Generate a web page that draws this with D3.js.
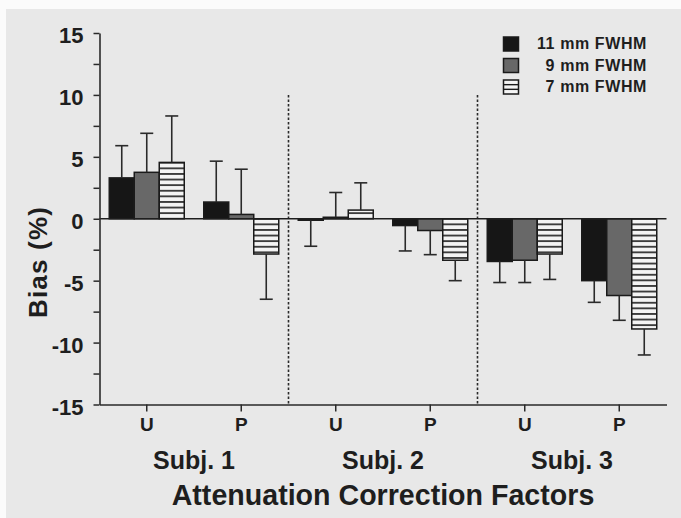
<!DOCTYPE html>
<html>
<head>
<meta charset="utf-8">
<script src="https://cdn.jsdelivr.net/npm/d3@7"></script>
<style>
  body { margin: 0; background: #fff; }
  svg { display: block; }
  text { font-family: Arial, "Liberation Sans", Helvetica, sans-serif; font-weight: bold; fill: #1e1e1e; }
</style>
</head>
<body>
<svg id="chart" width="681" height="518"></svg>
<script>
// Subjects and attenuation-correction factors (U / P) per subject
const subjects = ["Subj. 1", "Subj. 2", "Subj. 3"];
const factors = ["U", "P"];
const seriesNames = ["11 mm FWHM", "9 mm FWHM", "7 mm FWHM"];

// Mean bias (%) for each subject/factor pair, one array per filter width
const bias11 = [3.3, 1.35, -0.12, -0.55, -3.45, -5.0];
const bias9  = [3.75, 0.35, 0.12, -0.95, -3.35, -6.2];
const bias7  = [4.55, -2.85, 0.7, -3.35, -2.85, -8.9];

// Standard deviations (one-sided error bars)
const sd11 = [2.6, 3.3, 2.1, 2.05, 1.7, 1.75];
const sd9  = [3.15, 3.65, 2.0, 1.95, 1.8, 2.0];
const sd7  = [3.75, 3.65, 2.2, 1.65, 2.05, 2.1];

const yTickValues = [-15, -12.5, -10, -7.5, -5, -2.5, 0, 2.5, 5, 7.5, 10, 12.5, 15];
const yLabelValues = [-15, -10, -5, 0, 5, 10, 15];

const svg = d3.select("#chart");
const W = 681, H = 518;

// paper background
svg.append("rect").attr("width", W).attr("height", H).attr("fill", "#fbfbfb");
svg.append("rect").attr("x", 6).attr("y", 9).attr("width", W - 6).attr("height", H - 9).attr("fill", "#e8e8e8");

const plot = { left: 99.5, right: 666.5, top: 33, bottom: 404.5 };

const categories = [];
subjects.forEach(s => factors.forEach(f => categories.push(s + "|" + f)));

const x = d3.scaleBand().domain(categories).range([plot.left, plot.right]).padding(0);
const y = d3.scaleLinear().domain([-15, 15]).range([plot.bottom, plot.top]);

const barW = 25;
const inner = d3.scaleBand().domain(seriesNames)
  .range([-barW * 1.5, barW * 1.5]).padding(0);

const seriesData = [
  { name: seriesNames[0], values: bias11, sd: sd11, fill: "#161616" },
  { name: seriesNames[1], values: bias9,  sd: sd9,  fill: "#686868" },
  { name: seriesNames[2], values: bias7,  sd: sd7,  fill: "url(#stripes)" }
];

// horizontal stripe fill, anchored on the zero line
const defs = svg.append("defs");
const stripeGap = 5.6;
const pat = defs.append("pattern")
  .attr("id", "stripes")
  .attr("patternUnits", "userSpaceOnUse")
  .attr("width", 10).attr("height", stripeGap)
  .attr("patternTransform", `translate(0,${y(0)})`);
pat.append("rect").attr("width", 10).attr("height", stripeGap).attr("fill", "#f4f4f4");
pat.append("rect").attr("y", -0.8).attr("width", 10).attr("height", 1.6).attr("fill", "#1e1e1e");
pat.append("rect").attr("y", stripeGap - 0.8).attr("width", 10).attr("height", 1.6).attr("fill", "#1e1e1e");

// dashed separators between subjects
const sepX = [x(categories[2]), x(categories[4])];
svg.append("g").selectAll("line").data(sepX).join("line")
  .attr("x1", d => d).attr("x2", d => d)
  .attr("y1", y(10)).attr("y2", y(-15))
  .attr("stroke", "#2a2a2a").attr("stroke-width", 1.6)
  .attr("stroke-dasharray", "2.5,2");

// bars
const bars = svg.append("g");
seriesData.forEach(s => {
  const g = bars.append("g");
  categories.forEach((c, i) => {
    const v = s.values[i];
    const cx = x(c) + x.bandwidth() / 2 + inner(s.name);
    g.append("rect")
      .attr("x", cx)
      .attr("y", y(Math.max(0, v)))
      .attr("width", inner.bandwidth())
      .attr("height", Math.abs(y(v) - y(0)))
      .attr("fill", s.fill)
      .attr("stroke", "#1a1a1a")
      .attr("stroke-width", 1.5);
  });
});

// error bars, drawn away from zero
const errs = svg.append("g").attr("stroke", "#2a2a2a").attr("stroke-width", 1.6);
seriesData.forEach(s => {
  categories.forEach((c, i) => {
    const v = s.values[i];
    const end = v >= 0 ? v + s.sd[i] : v - s.sd[i];
    const mx = x(c) + x.bandwidth() / 2 + inner(s.name) + inner.bandwidth() / 2;
    errs.append("line").attr("x1", mx).attr("x2", mx).attr("y1", y(v)).attr("y2", y(end));
    errs.append("line").attr("x1", mx - 6.5).attr("x2", mx + 6.5).attr("y1", y(end)).attr("y2", y(end));
  });
});

// zero line
svg.append("line")
  .attr("x1", plot.left).attr("x2", plot.right)
  .attr("y1", y(0)).attr("y2", y(0))
  .attr("stroke", "#1e1e1e").attr("stroke-width", 1.5);

// y axis
const yAxis = d3.axisLeft(y)
  .tickValues(yTickValues)
  .tickSize(6)
  .tickSizeOuter(0)
  .tickPadding(10)
  .tickFormat(d => yLabelValues.includes(d) ? String(d) : "");
const gy = svg.append("g").attr("transform", `translate(${plot.left},0)`).call(yAxis);
gy.select(".domain").attr("stroke", "#2a2a2a").attr("stroke-width", 1.6);
gy.selectAll(".tick line").attr("stroke", "#2a2a2a").attr("stroke-width", 1.5);
gy.selectAll(".tick text")
  .attr("font-size", 22).attr("dy", "0.45em")
  .style("font-family", "Arial, 'Liberation Sans', sans-serif")
  .style("font-weight", "bold").attr("fill", "#1e1e1e");

// x axis
const xAxis = d3.axisBottom(x)
  .tickSize(7)
  .tickSizeOuter(0)
  .tickPadding(6)
  .tickFormat(d => d.split("|")[1]);
const gx = svg.append("g").attr("transform", `translate(0,${plot.bottom})`).call(xAxis);
gx.select(".domain").attr("stroke", "#2a2a2a").attr("stroke-width", 1.6);
gx.selectAll(".tick line").attr("stroke", "#2a2a2a").attr("stroke-width", 1.5);
gx.selectAll(".tick text")
  .attr("font-size", 19)
  .style("font-family", "Arial, 'Liberation Sans', sans-serif")
  .style("font-weight", "bold").attr("fill", "#1e1e1e");

// subject labels
svg.append("g").selectAll("text").data(subjects).join("text")
  .attr("x", (s) => (x(s + "|U") + x(s + "|P") + x.bandwidth()) / 2)
  .attr("y", 469)
  .attr("text-anchor", "middle")
  .attr("font-size", 25)
  .text(d => d);

// axis titles
svg.append("text")
  .attr("x", (plot.left + plot.right) / 2)
  .attr("y", 505)
  .attr("text-anchor", "middle")
  .attr("font-size", 28.6)
  .text("Attenuation Correction Factors");

svg.append("text")
  .attr("transform", `translate(47,262) rotate(-90)`)
  .attr("text-anchor", "middle")
  .attr("font-size", 26)
  .attr("letter-spacing", 1.2)
  .text("Bias (%)");

// legend
const legend = svg.append("g");
seriesData.forEach((s, i) => {
  const rowY = 37 + i * 21.5;
  legend.append("rect")
    .attr("x", 503.5).attr("y", rowY)
    .attr("width", 15).attr("height", 14)
    .attr("fill", i === 2 ? "#f4f4f4" : s.fill)
    .attr("stroke", "#1a1a1a").attr("stroke-width", 1.5);
  if (i === 2) {
    [1, 2].forEach(k => legend.append("line")
      .attr("x1", 503.5).attr("x2", 518.5)
      .attr("y1", rowY + k * 14 / 3).attr("y2", rowY + k * 14 / 3)
      .attr("stroke", "#1a1a1a").attr("stroke-width", 1.4));
  }
  legend.append("text")
    .attr("x", 647).attr("y", rowY + 12)
    .attr("text-anchor", "end")
    .attr("font-size", 16)
    .attr("letter-spacing", 0.6)
    .text(s.name);
});
</script>
</body>
</html>
